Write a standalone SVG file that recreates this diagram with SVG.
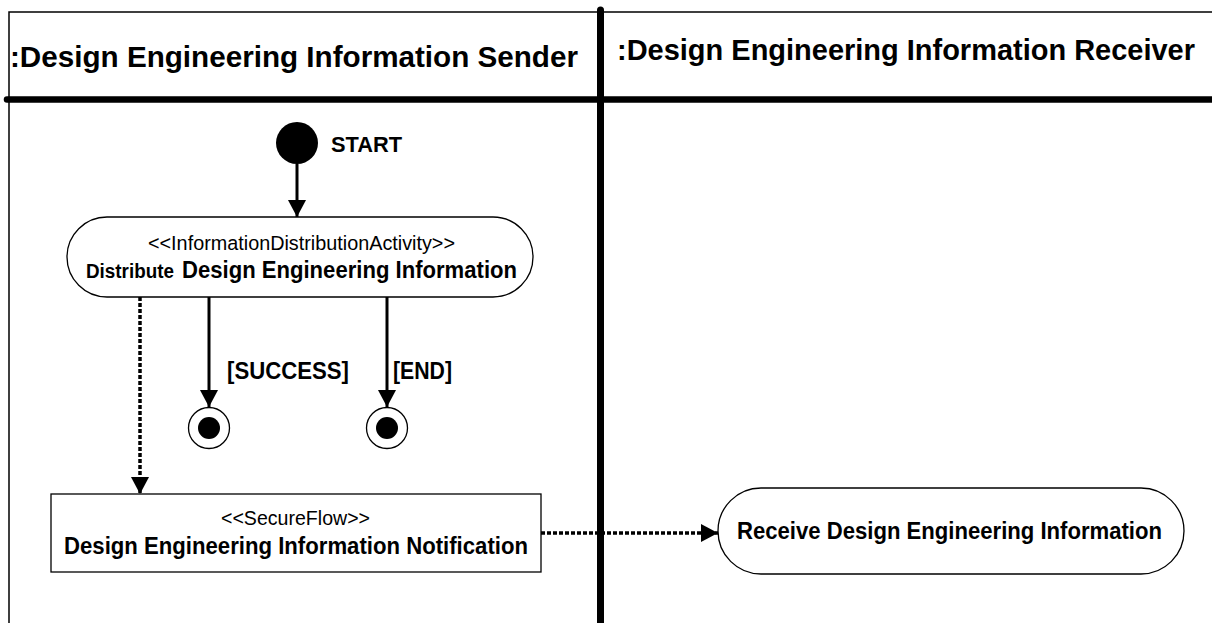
<svg xmlns="http://www.w3.org/2000/svg" width="1212" height="623" viewBox="0 0 1212 623">
<defs>
<marker id="ah" markerUnits="userSpaceOnUse" markerWidth="18" markerHeight="18" viewBox="0 0 18 18" refX="17" refY="9" orient="auto">
<path d="M0,0 L17,9 L0,18 Z" fill="#000"/>
</marker>
<style>
.bold{font-family:"Liberation Sans",Arial,sans-serif;font-weight:bold;fill:#000}
.reg{font-family:"Liberation Sans",Arial,sans-serif;fill:#000}
.node{fill:#fff;stroke:#000;stroke-width:1.3}
.flow{fill:none;stroke:#000;stroke-width:3}
.dash{fill:none;stroke:#000;stroke-width:3.5;stroke-dasharray:4 2}
</style>
</defs>
<rect width="1212" height="623" fill="#fff"/>
<g id="frame">
<path d="M9,623 V12 H1212" fill="none" stroke="#000" stroke-width="1.5"/>
<line x1="7" y1="99.5" x2="1212" y2="99.5" stroke="#000" stroke-width="6.5" stroke-linecap="round"/>
<line x1="600.5" y1="10" x2="600.5" y2="623" stroke="#000" stroke-width="7" stroke-linecap="round"/>
<text class="bold" x="10" y="67" font-size="29.5" textLength="568" lengthAdjust="spacingAndGlyphs">:Design Engineering Information Sender</text>
<text class="bold" x="617" y="60" font-size="28.8" textLength="578" lengthAdjust="spacingAndGlyphs">:Design Engineering Information Receiver</text>
</g>
<g id="start">
<circle cx="297" cy="143" r="21" fill="#000"/>
<text class="bold" x="331" y="152" font-size="22" textLength="71" lengthAdjust="spacingAndGlyphs">START</text>
</g>
<g id="distribute">
<rect class="node" x="67" y="217" width="466" height="80" rx="40" ry="40"/>
<text class="reg" x="148" y="250" font-size="20.5" textLength="307" lengthAdjust="spacingAndGlyphs">&lt;&lt;InformationDistributionActivity&gt;&gt;</text>
<text class="bold" x="86" y="278" font-size="19.5" textLength="88" lengthAdjust="spacingAndGlyphs">Distribute</text>
<text class="bold" x="182" y="278" font-size="23.5" textLength="335" lengthAdjust="spacingAndGlyphs">Design Engineering Information</text>
</g>
<g id="final1">
<circle cx="209" cy="428" r="20.5" fill="#fff" stroke="#000" stroke-width="1.3"/>
<circle cx="209" cy="428" r="11" fill="#000"/>
</g>
<g id="final2">
<circle cx="387" cy="428" r="20.5" fill="#fff" stroke="#000" stroke-width="1.3"/>
<circle cx="387" cy="428" r="11" fill="#000"/>
</g>
<g id="notification">
<rect class="node" x="51" y="494" width="490" height="78"/>
<text class="reg" x="221" y="525" font-size="20.5" textLength="149" lengthAdjust="spacingAndGlyphs">&lt;&lt;SecureFlow&gt;&gt;</text>
<text class="bold" x="64" y="554" font-size="23.5" textLength="464" lengthAdjust="spacingAndGlyphs">Design Engineering Information Notification</text>
</g>
<g id="receive">
<rect class="node" x="718" y="488" width="466" height="86" rx="43" ry="43"/>
<text class="bold" x="737" y="539" font-size="23" textLength="425" lengthAdjust="spacingAndGlyphs">Receive Design Engineering Information</text>
</g>
<g id="connectors">
<line class="flow" x1="297" y1="164" x2="297" y2="217" marker-end="url(#ah)"/>
<line class="flow" x1="209" y1="297" x2="209" y2="407" marker-end="url(#ah)"/>
<line class="flow" x1="387" y1="297" x2="387" y2="407" marker-end="url(#ah)"/>
<line class="dash" x1="140" y1="297" x2="140" y2="494" marker-end="url(#ah)"/>
<line class="dash" x1="541" y1="533" x2="718" y2="533" marker-end="url(#ah)"/>
<text class="bold" x="227" y="379" font-size="23" textLength="122" lengthAdjust="spacingAndGlyphs">[SUCCESS]</text>
<text class="bold" x="393" y="379" font-size="23" textLength="59" lengthAdjust="spacingAndGlyphs">[END]</text>
</g>
</svg>
